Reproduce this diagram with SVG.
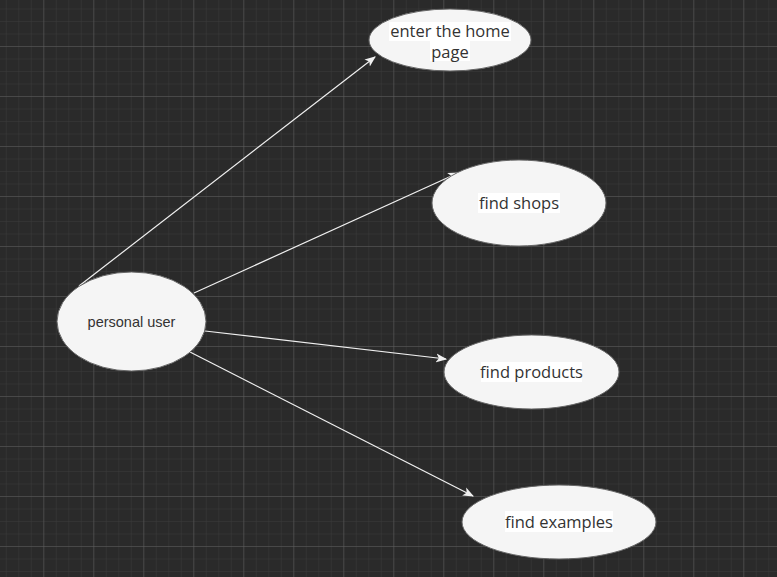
<svg xmlns="http://www.w3.org/2000/svg" width="777" height="577" viewBox="0 0 777 577">
<defs>
<pattern id="minor" x="5.8" y="8.5" width="12.5" height="12.5" patternUnits="userSpaceOnUse">
<path d="M0 0 H12.5 M0 0 V12.5" fill="none" stroke="#3b3b3b" stroke-width="1"/>
</pattern>
<pattern id="major" x="43.3" y="46" width="50" height="50" patternUnits="userSpaceOnUse">
<path d="M0 0 H50 M0 0 V50" fill="none" stroke="#5e5e5e" stroke-width="1"/>
</pattern>
<marker id="arr" viewBox="0 0 10 10" refX="9" refY="5" markerWidth="11" markerHeight="11" markerUnits="userSpaceOnUse" orient="auto">
<path d="M0 1 L10 5 L0 9 L2.5 5 Z" fill="#f0f0f0"/>
</marker>
<style>
.uc{fill:#f5f5f5;stroke:#666666;stroke-width:1}
.lb{font-family:"Open Sans","DejaVu Sans",sans-serif;font-size:16.5px;fill:#333333;text-anchor:middle}
.sm{font-family:"Liberation Sans",Arial,sans-serif;font-size:14.5px;fill:#333333;text-anchor:middle}
.bg{fill:#ffffff}
.ed{stroke:#f0f0f0;stroke-width:1.2;fill:none;marker-end:url(#arr)}
</style>
</defs>
<rect width="777" height="577" fill="#2a2a2a"/>
<rect width="777" height="577" fill="url(#minor)"/>
<rect width="777" height="577" fill="url(#major)"/>
<g id="edges">
<line class="ed" x1="79" y1="286" x2="375" y2="57"/>
<line class="ed" x1="194" y1="293" x2="458" y2="173"/>
<line class="ed" x1="205" y1="331" x2="446" y2="359"/>
<line class="ed" x1="190" y1="352" x2="473" y2="496"/>
</g>
<g id="home">
<ellipse class="uc" cx="450" cy="40" rx="81" ry="31"/>
<rect class="bg" x="389" y="22" width="122" height="19"/>
<rect class="bg" x="430" y="41" width="40" height="20"/>
<text class="lb" x="450" y="37">enter the home</text>
<text class="lb" x="450" y="58">page</text>
</g>
<g id="shops">
<ellipse class="uc" cx="519" cy="203" rx="87" ry="43"/>
<rect class="bg" x="478" y="193" width="82" height="20"/>
<text class="lb" x="519" y="209">find shops</text>
</g>
<g id="user">
<ellipse class="uc" cx="131.5" cy="321.5" rx="74.5" ry="49.5"/>
<text class="sm" x="131.5" y="327">personal user</text>
</g>
<g id="products">
<ellipse class="uc" cx="531.5" cy="372" rx="87.5" ry="37"/>
<rect class="bg" x="481" y="362" width="101" height="20"/>
<text class="lb" x="531.5" y="378">find products</text>
</g>
<g id="examples">
<ellipse class="uc" cx="559" cy="522" rx="97" ry="37"/>
<rect class="bg" x="505" y="511" width="108" height="21"/>
<text class="lb" x="559" y="528">find examples</text>
</g>
</svg>
